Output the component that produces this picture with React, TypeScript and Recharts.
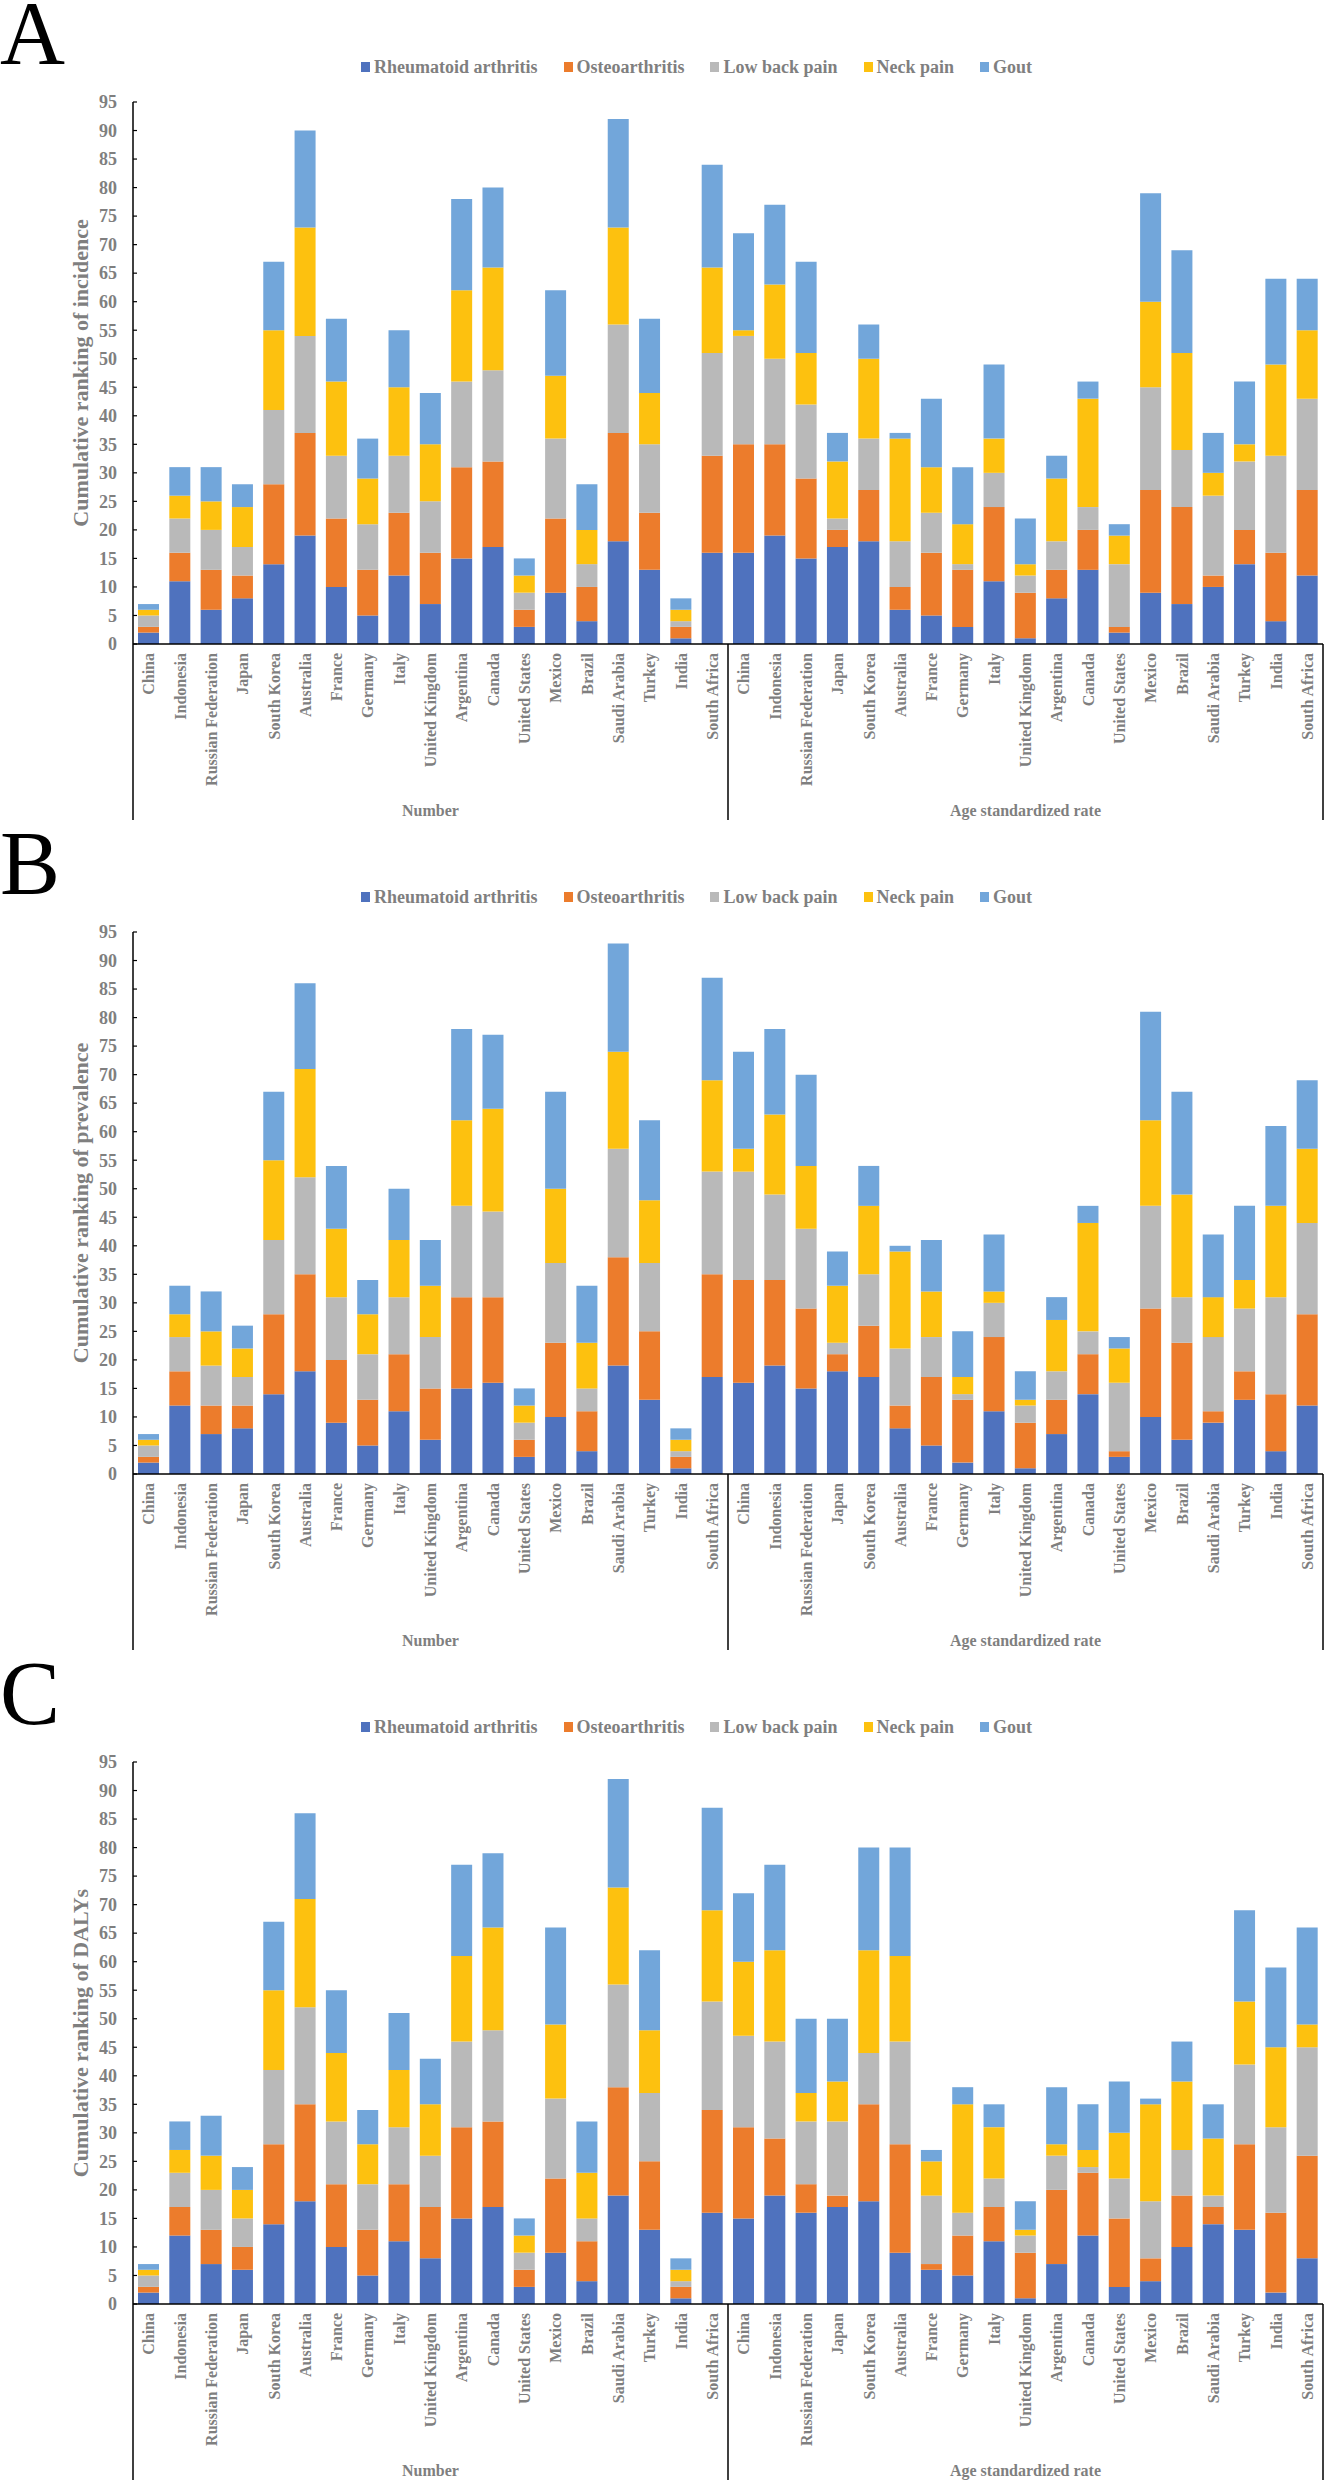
import React from 'react';
import { BarChart, Bar, XAxis, YAxis } from 'recharts';

const COUNTRIES = [
  'China', 'Indonesia', 'Russian Federation', 'Japan', 'South Korea', 'Australia', 'France',
  'Germany', 'Italy', 'United Kingdom', 'Argentina', 'Canada', 'United States', 'Mexico',
  'Brazil', 'Saudi Arabia', 'Turkey', 'India', 'South Africa',
];
const GROUPS = ['Number', 'Age standardized rate'];
const Y_TICKS = [0, 5, 10, 15, 20, 25, 30, 35, 40, 45, 50, 55, 60, 65, 70, 75, 80, 85, 90, 95];

const SERIES = [
  { key: 'ra', name: 'Rheumatoid arthritis', color: '#4F72BE' },
  { key: 'oa', name: 'Osteoarthritis', color: '#EC7C2C' },
  { key: 'lbp', name: 'Low back pain', color: '#B9B9B9' },
  { key: 'np', name: 'Neck pain', color: '#FDC10F' },
  { key: 'gout', name: 'Gout', color: '#72A6DA' },
];

// ranks: first 19 = Number, last 19 = Age standardized rate
// A - incidence
const INC_RA = [2, 11, 6, 8, 14, 19, 10, 5, 12, 7, 15, 17, 3, 9, 4, 18, 13, 1, 16, 16, 19, 15, 17, 18, 6, 5, 3, 11, 1, 8, 13, 2, 9, 7, 10, 14, 4, 12];
const INC_OA = [1, 5, 7, 4, 14, 18, 12, 8, 11, 9, 16, 15, 3, 13, 6, 19, 10, 2, 17, 19, 16, 14, 3, 9, 4, 11, 10, 13, 8, 5, 7, 1, 18, 17, 2, 6, 12, 15];
const INC_LBP = [2, 6, 7, 5, 13, 17, 11, 8, 10, 9, 15, 16, 3, 14, 4, 19, 12, 1, 18, 19, 15, 13, 2, 9, 8, 7, 1, 6, 3, 5, 4, 11, 18, 10, 14, 12, 17, 16];
const INC_NP = [1, 4, 5, 7, 14, 19, 13, 8, 12, 10, 16, 18, 3, 11, 6, 17, 9, 2, 15, 1, 13, 9, 10, 14, 18, 8, 7, 6, 2, 11, 19, 5, 15, 17, 4, 3, 16, 12];
const INC_GOUT = [1, 5, 6, 4, 12, 17, 11, 7, 10, 9, 16, 14, 3, 15, 8, 19, 13, 2, 18, 17, 14, 16, 5, 6, 1, 12, 10, 13, 8, 4, 3, 2, 19, 18, 7, 11, 15, 9];

// B - prevalence
const PREV_RA = [2, 12, 7, 8, 14, 18, 9, 5, 11, 6, 15, 16, 3, 10, 4, 19, 13, 1, 17, 16, 19, 15, 18, 17, 8, 5, 2, 11, 1, 7, 14, 3, 10, 6, 9, 13, 4, 12];
const PREV_OA = [1, 6, 5, 4, 14, 17, 11, 8, 10, 9, 16, 15, 3, 13, 7, 19, 12, 2, 18, 18, 15, 14, 3, 9, 4, 12, 11, 13, 8, 6, 7, 1, 19, 17, 2, 5, 10, 16];
const PREV_LBP = [2, 6, 7, 5, 13, 17, 11, 8, 10, 9, 16, 15, 3, 14, 4, 19, 12, 1, 18, 19, 15, 14, 2, 9, 10, 7, 1, 6, 3, 5, 4, 12, 18, 8, 13, 11, 17, 16];
const PREV_NP = [1, 4, 6, 5, 14, 19, 12, 7, 10, 9, 15, 18, 3, 13, 8, 17, 11, 2, 16, 4, 14, 11, 10, 12, 17, 8, 3, 2, 1, 9, 19, 6, 15, 18, 7, 5, 16, 13];
const PREV_GOUT = [1, 5, 7, 4, 12, 15, 11, 6, 9, 8, 16, 13, 3, 17, 10, 19, 14, 2, 18, 17, 15, 16, 6, 7, 1, 9, 8, 10, 5, 4, 3, 2, 19, 18, 11, 13, 14, 12];

// C - DALYs
const DALY_RA = [2, 12, 7, 6, 14, 18, 10, 5, 11, 8, 15, 17, 3, 9, 4, 19, 13, 1, 16, 15, 19, 16, 17, 18, 9, 6, 5, 11, 1, 7, 12, 3, 4, 10, 14, 13, 2, 8];
const DALY_OA = [1, 5, 6, 4, 14, 17, 11, 8, 10, 9, 16, 15, 3, 13, 7, 19, 12, 2, 18, 16, 10, 5, 2, 17, 19, 1, 7, 6, 8, 13, 11, 12, 4, 9, 3, 15, 14, 18];
const DALY_LBP = [2, 6, 7, 5, 13, 17, 11, 8, 10, 9, 15, 16, 3, 14, 4, 18, 12, 1, 19, 16, 17, 11, 13, 9, 18, 12, 4, 5, 3, 6, 1, 7, 10, 8, 2, 14, 15, 19];
const DALY_NP = [1, 4, 6, 5, 14, 19, 12, 7, 10, 9, 15, 18, 3, 13, 8, 17, 11, 2, 16, 13, 16, 5, 7, 18, 15, 6, 19, 9, 1, 2, 3, 8, 17, 12, 10, 11, 14, 4];
const DALY_GOUT = [1, 5, 7, 4, 12, 15, 11, 6, 10, 8, 16, 13, 3, 17, 9, 19, 14, 2, 18, 12, 15, 13, 11, 18, 19, 2, 3, 4, 5, 10, 8, 9, 1, 7, 6, 16, 14, 17];

const W = 1324;
const PLOT_TOP = 102;
const PLOT_BOTTOM = 644;
const PLOT_LEFT = 133;
const PLOT_RIGHT = 1323;
const GRAY = '#7F7F7F';
const SERIF = '"Liberation Serif", "Times New Roman", serif';

function buildRows(ra: number[], oa: number[], lbp: number[], np: number[], gout: number[]) {
  const rows: any[] = [];
  GROUPS.forEach((g, gi) => {
    COUNTRIES.forEach((c, ci) => {
      const i = gi * COUNTRIES.length + ci;
      rows.push({ id: `${gi}|${c}`, name: c, ra: ra[i], oa: oa[i], lbp: lbp[i], np: np[i], gout: gout[i] });
    });
  });
  return rows;
}

function CountryTick(props: any) {
  const { x, y, payload } = props;
  const label = String(payload.value).split('|')[1];
  return (
    <g transform={`translate(${x},${y})`}>
      <text
        transform="rotate(-90)"
        textAnchor="end"
        dy="0.35em"
        fill={GRAY}
        fontFamily={SERIF}
        fontWeight="bold"
        fontSize={16}
      >
        {label}
      </text>
    </g>
  );
}

function ValueTick(props: any) {
  const { x, y, payload } = props;
  return (
    <g>
      <line x1={x + 16} x2={x + 20} y1={y} y2={y} stroke="#000" strokeWidth={1.2} />
      <text x={x} y={y} dy="0.35em" textAnchor="end" fill={GRAY} fontFamily={SERIF} fontWeight="bold" fontSize={18}>
        {payload.value}
      </text>
    </g>
  );
}

function Legend() {
  return (
    <div
      style={{
        position: 'absolute',
        top: 57,
        left: 361,
        display: 'flex',
        alignItems: 'center',
        columnGap: 26,
        fontFamily: SERIF,
        fontWeight: 'bold',
        fontSize: 18,
        lineHeight: '20px',
        color: GRAY,
        whiteSpace: 'nowrap',
      }}
    >
      {SERIES.map((s) => (
        <div key={s.key} style={{ display: 'flex', alignItems: 'center' }}>
          <span style={{ display: 'inline-block', width: 9, height: 10, background: s.color, marginRight: 4 }} />
          <span>{s.name}</span>
        </div>
      ))}
    </div>
  );
}

interface PanelProps {
  letter: string;
  yTitle: string;
  rows: any[];
  height: number;
}

function Panel({ letter, yTitle, rows, height }: PanelProps) {
  const band = (PLOT_RIGHT - PLOT_LEFT) / rows.length;
  const mid = PLOT_LEFT + band * COUNTRIES.length;
  const sepBottom = 820;
  return (
    <div style={{ position: 'relative', width: W, height }}>
      <BarChart
        width={W}
        height={height}
        data={rows}
        margin={{ top: PLOT_TOP, right: W - PLOT_RIGHT, left: 0, bottom: 0 }}
        barSize={21}
      >
        <XAxis
          dataKey="id"
          interval={0}
          height={height - PLOT_BOTTOM}
          tickLine={false}
          tickSize={6}
          tickMargin={3}
          axisLine={{ stroke: '#000', strokeWidth: 1.5 }}
          tick={(p: any) => <CountryTick {...p} />}
        />
        <YAxis
          width={PLOT_LEFT}
          domain={[0, 95]}
          ticks={Y_TICKS}
          interval={0}
          allowDataOverflow
          tickLine={false}
          tickSize={4}
          tickMargin={12}
          axisLine={{ stroke: '#000', strokeWidth: 1.5 }}
          tick={(p: any) => <ValueTick {...p} />}
        />
        {SERIES.map((s) => (
          <Bar key={s.key} dataKey={s.key} name={s.name} stackId="rank" fill={s.color} isAnimationActive={false} />
        ))}
      </BarChart>
      <svg
        width={W}
        height={height}
        style={{ position: 'absolute', left: 0, top: 0, pointerEvents: 'none' }}
      >
        <text x={0} y={64} fontFamily={SERIF} fontSize={90} fill="#000">
          {letter}
        </text>
        <text
          transform={`translate(88,${(PLOT_TOP + PLOT_BOTTOM) / 2}) rotate(-90)`}
          textAnchor="middle"
          fontFamily={SERIF}
          fontWeight="bold"
          fontSize={22}
          fill={GRAY}
        >
          {yTitle}
        </text>
        {[PLOT_LEFT, mid, PLOT_RIGHT].map((sx, i) => (
          <line key={i} x1={sx} x2={sx} y1={PLOT_BOTTOM} y2={sepBottom} stroke="#000" strokeWidth={1.5} />
        ))}
        {GROUPS.map((g, i) => {
          const x0 = i === 0 ? PLOT_LEFT : mid;
          const x1 = i === 0 ? mid : PLOT_RIGHT;
          return (
            <text
              key={g}
              x={(x0 + x1) / 2}
              y={816}
              textAnchor="middle"
              fontFamily={SERIF}
              fontWeight="bold"
              fontSize={16}
              fill={GRAY}
            >
              {g}
            </text>
          );
        })}
      </svg>
      <Legend />
    </div>
  );
}

export default function App() {
  const incidence = buildRows(INC_RA, INC_OA, INC_LBP, INC_NP, INC_GOUT);
  const prevalence = buildRows(PREV_RA, PREV_OA, PREV_LBP, PREV_NP, PREV_GOUT);
  const dalys = buildRows(DALY_RA, DALY_OA, DALY_LBP, DALY_NP, DALY_GOUT);
  return (
    <div style={{ position: 'absolute', left: 0, top: 0, width: W, height: 2481, background: '#fff', overflow: 'hidden' }}>
      <Panel letter="A" yTitle="Cumulative ranking of incidence" rows={incidence} height={830} />
      <Panel letter="B" yTitle="Cumulative ranking of prevalence" rows={prevalence} height={830} />
      <Panel letter="C" yTitle="Cumulative ranking of DALYs" rows={dalys} height={821} />
    </div>
  );
}
